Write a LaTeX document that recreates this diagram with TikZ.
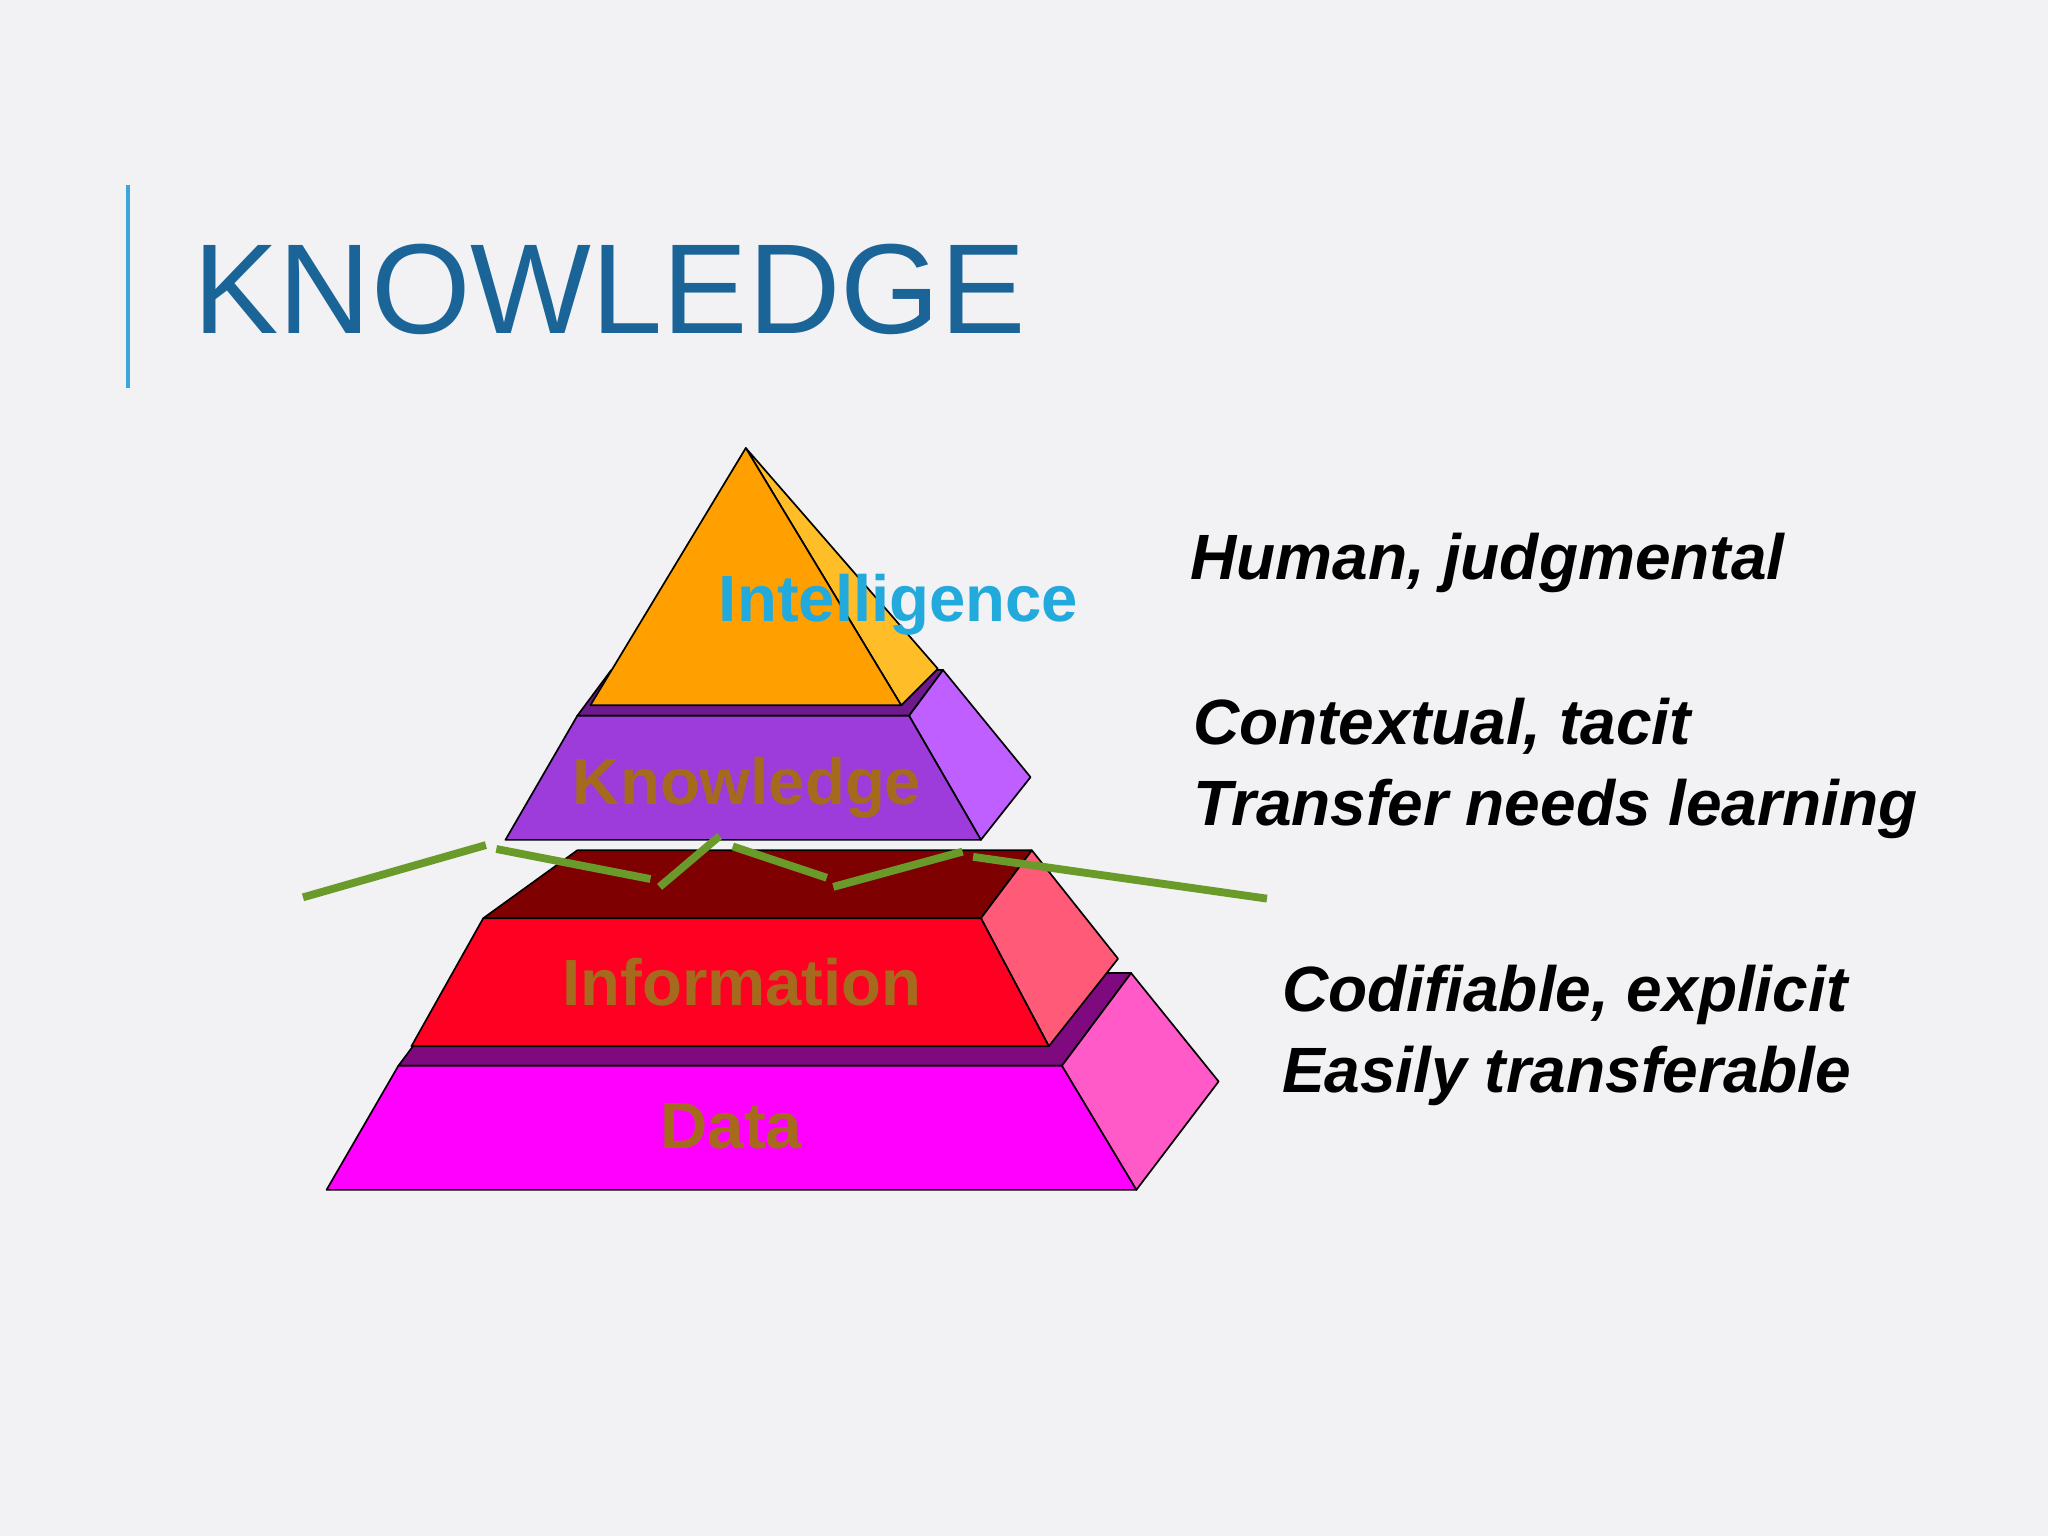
\documentclass[tikz,border=0pt]{standalone}
\usepackage{fontspec}
\setmainfont{Liberation Sans}
\definecolor{bg}{HTML}{F2F2F4}
\definecolor{ttl}{HTML}{1B6497}
\definecolor{bar}{HTML}{3AA6DA}
\definecolor{dfront}{HTML}{FF00FF}
\definecolor{dside}{HTML}{FF5AC8}
\definecolor{dtop}{HTML}{7F0A7F}
\definecolor{ifront}{HTML}{FF0022}
\definecolor{iside}{HTML}{FF5A78}
\definecolor{itop}{HTML}{7F0000}
\definecolor{kfront}{HTML}{9D3BDB}
\definecolor{kside}{HTML}{BF5FFF}
\definecolor{ktop}{HTML}{6E1A8C}
\definecolor{afront}{HTML}{FFA000}
\definecolor{aside}{HTML}{FFBE28}
\definecolor{lab}{HTML}{A66A1E}
\definecolor{intl}{HTML}{22AADD}
\definecolor{grn}{HTML}{6A9A2A}
\tikzset{face/.style={draw=black,line width=1.3pt,line join=round},
 lbl/.style={font=\fontsize{50}{60}\selectfont\bfseries,text=lab},
 rt/.style={font=\fontsize{49}{58}\selectfont\bfseries\itshape,anchor=west},
 gl/.style={draw=grn,line width=6pt}}
\begin{document}
\begin{tikzpicture}[x=1pt,y=-1pt]
\fill[bg] (0,0) rectangle (1568,1176);
\useasboundingbox (0,0) rectangle (1568,1176);
\draw[bar,line width=2.5pt] (98,142) -- (98,297);
\node[anchor=base west,inner sep=0,text=ttl,font=\fontsize{98}{110}\selectfont] (title) at (148,255) {KNOWLEDGE};
% Data
\path[face,fill=dtop] (305,816) -- (813,816) -- (866,745) -- (358,745) -- cycle;
\path[face,fill=dside] (870,911) -- (933,828) -- (866,745) -- (813,816) -- cycle;
\path[face,fill=dfront] (250,911) -- (870,911) -- (813,816) -- (305,816) -- cycle;
% Information
\path[face,fill=itop] (370,703) -- (751,703) -- (790,651) -- (442,651) -- cycle;
\path[face,fill=iside] (803,801) -- (856,734) -- (790,651) -- (751,703) -- cycle;
\path[face,fill=ifront] (315,801) -- (803,801) -- (751,703) -- (370,703) -- cycle;
% Knowledge
\path[face,fill=ktop] (442,548) -- (696,548) -- (722,513) -- (468,513) -- cycle;
\path[face,fill=kside] (751,643) -- (789,595) -- (722,513) -- (696,548) -- cycle;
\path[face,fill=kfront] (387,643) -- (751,643) -- (696,548) -- (442,548) -- cycle;
% Intelligence
\path[face,fill=aside] (690,540) -- (718,512) -- (571,343) -- cycle;
\path[face,fill=afront] (452,540) -- (690,540) -- (571,343) -- cycle;
% green line
\draw[gl] (232,687) -- (372,647);
\draw[gl] (380,650) -- (498,673);
\draw[gl] (505,679) -- (551,640);
\draw[gl] (561,648) -- (633,672);
\draw[gl] (638,679) -- (737,652);
\draw[gl] (745,656) -- (970,688);
% labels
\node[lbl,text=intl] (lint) at (688,463) {Intelligence};
\node[lbl] (lkn) at (572,603) {Knowledge};
\node[lbl] (linf) at (568,752) {Information};
\node[lbl] (ldat) at (560,862) {Data};
\node[rt] (r1) at (908,431) {Human, judgmental};
\node[rt] (r2) at (910,556) {Contextual, tacit};
\node[rt] (r3) at (910,619) {Transfer needs learning};
\node[rt] (r4) at (978,762) {Codifiable, explicit};
\node[rt] (r5) at (978,824) {Easily transferable};
\end{tikzpicture}
\end{document}
